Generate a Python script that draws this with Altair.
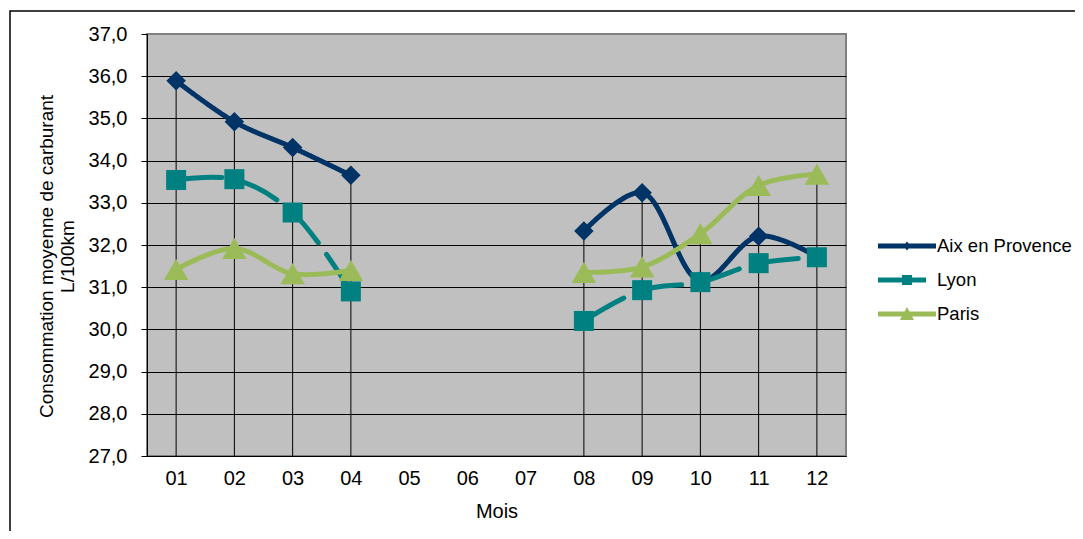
import altair as alt
import pandas as pd

months = ["01", "02", "03", "04", "05", "06", "07", "08", "09", "10", "11", "12"]
series_names = ["Aix en Provence", "Lyon", "Paris"]
aix = [35.89, 34.92, 34.31, 33.65, None, None, None, 32.33, 33.24, 31.15, 32.21, 31.72]
lyon = [33.54, 33.56, 32.77, 30.90, None, None, None, 30.20, 30.93, 31.12, 31.57, 31.71]
paris = [31.42, 31.92, 31.32, 31.40, None, None, None, 31.35, 31.48, 32.27, 33.41, 33.68]
colors = ["#003366", "#008080", "#9BBB59"]
shapes = ["diamond", "square", "triangle-up"]
marker_sizes = [380, 400, 600]
y_title = ["Consommation moyenne de carburant", "L/100km"]
x_title = "Mois"

rows = []
for name, vals in zip(series_names, [aix, lyon, paris]):
    for m, v in zip(months, vals):
        if v is not None:
            rows.append({"mois": m, "serie": name, "valeur": v,
                         "segment": "a" if int(m) <= 4 else "b"})
df = pd.DataFrame(rows)

W, H = 699, 422
PL, PT = 139, 26
VW, VH = 1067, 523
FS = 20

xscale = alt.Scale(type="point", domain=months, padding=0.5)
yscale = alt.Scale(domain=[27, 37], nice=False, zero=False)
color_scale = alt.Scale(domain=series_names, range=colors)

# legend glyphs: line segment with marker (unit = 11 px, symbol box 22 px)
bar = "M-1,-0.227L4.273,-0.227L4.273,0.227L-1,0.227Z"
legend_paths = [
    bar + "M1.636,-0.41L1.956,0L1.636,0.41L1.316,0Z",
    "M-1,-0.227L3.364,-0.227L3.364,0.227L-1,0.227ZM1.181,-0.455L2.091,-0.455L2.091,0.455L1.181,0.455Z",
    bar + "M1.636,-0.64L2.276,0.55L0.996,0.55Z",
]

legend = alt.Legend(
    title=None, orient="none", legendX=731, legendY=201,
    symbolSize=484, rowPadding=13, labelOffset=37,
    labelFontSize=18.5, labelFont="Liberation Sans", labelColor="black",
    padding=0, symbolStrokeWidth=0, symbolOpacity=1,
)

y_axis = alt.Axis(
    title=y_title, values=list(range(27, 38)),
    labelExpr="replace(format(datum.value, '.1f'), '.', ',')",
    labelFontSize=FS, labelColor="black", labelPadding=14,
    tickSize=6, tickColor="black", domainColor="black",
    grid=True, gridColor=alt.condition("datum.value >= 37", alt.value("#808080"), alt.value("black")),
    gridWidth=1, titleFontSize=19, titleFontWeight="normal", titleColor="black",
    titlePadding=11, titleLineHeight=21, titleY=222,
)
x_axis = alt.Axis(
    title=x_title, labelAngle=0, ticks=False, grid=False,
    labelFontSize=FS, labelColor="black", labelPadding=12,
    domainColor="black", titleFontSize=FS, titleFontWeight="normal",
    titleColor="black", titlePadding=13,
)

base = alt.Chart(df)
X = alt.X("mois:O", scale=xscale, axis=x_axis)
Y = alt.Y("valeur:Q", scale=yscale, axis=y_axis)
C = alt.Color("serie:N", scale=color_scale, legend=legend)

drops = base.transform_aggregate(
    top="max(valeur)", groupby=["mois"]
).mark_rule(color="black", strokeWidth=1).encode(
    x=X,
    y=alt.Y("top:Q", scale=yscale, axis=y_axis),
    y2=alt.datum(27),
)

lines = base.mark_line(interpolate="catmull-rom", strokeWidth=5, strokeCap="round").encode(
    x=X, y=Y, color=C,
    detail="segment:N",
    strokeDash=alt.condition("datum.serie === 'Lyon'", alt.value([46, 14]), alt.value([1, 0])),
)

point_layers = [
    base.transform_filter(alt.datum.serie == name).mark_point(
        filled=True, opacity=1, shape=shp, size=sz
    ).encode(x=X, y=Y, color=C)
    for name, shp, sz in zip(series_names, shapes, marker_sizes)
]

legend_layer = base.transform_filter("false").mark_point(filled=True, opacity=1).encode(
    x=X, y=Y, color=C,
    shape=alt.Shape("serie:N", scale=alt.Scale(domain=series_names, range=legend_paths), legend=legend),
)

frame = alt.Chart(pd.DataFrame({"k": [0]})).mark_rect(
    fill="transparent", stroke="black", strokeWidth=1.5
).encode(
    x=alt.value(2 - PL), x2=alt.value(VW + 20 - PL),
    y=alt.value(3 - PT), y2=alt.value(VH + 20 - PT),
)

chart = alt.layer(frame, drops, lines, *point_layers, legend_layer).properties(
    width=W, height=H,
    padding={"left": PL, "top": PT, "right": VW - PL - W, "bottom": VH - PT - H},
    autosize=alt.AutoSizeParams(type="none"),
).configure(
    font="Liberation Sans",
    view=alt.ViewConfig(fill="#C0C0C0", stroke="#808080", strokeWidth=2),
)

chart.save("out.html", embed_options={"renderer": "svg", "actions": False})
